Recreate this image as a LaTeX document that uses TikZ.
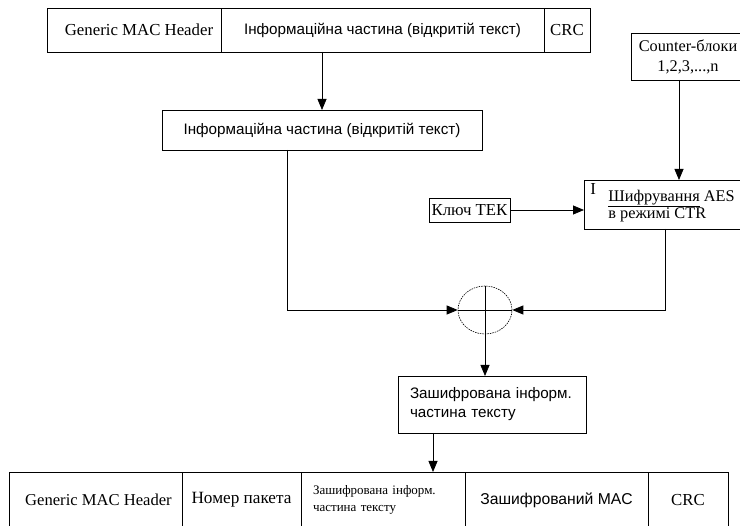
\documentclass[tikz,border=0pt]{standalone}
\usepackage{fontspec}
\setmainfont{Liberation Serif}
\setsansfont{Liberation Sans}
\usetikzlibrary{arrows.meta,shapes.geometric}

\begin{document}
\begin{tikzpicture}[x=1pt,y=-1pt, line width=0.8pt,
  cell/.style={draw, inner sep=0pt, outer sep=0pt},
  serif/.style={font=\fontsize{16.8}{19}\selectfont},
  small/.style={font=\fontsize{13}{17}\selectfont},
  sans/.style={font=\sffamily\fontsize{15.2}{19}\selectfont},
  arr/.style={-{Triangle[length=11pt,width=9pt]}},
]
\useasboundingbox (0,0) rectangle (740,526);
\clip (0,0) rectangle (740,526);

% incoming frame
\node[cell,serif,minimum width=174pt,minimum height=44pt] (srcHdr) at (134,30) {\hspace{10pt}Generic MAC Header};
\node[cell,sans,minimum width=323pt,minimum height=44pt] (srcData) at (382.5,30) {Інформаційна частина (відкритій текст)\hspace{30pt}};
\node[cell,serif,minimum width=46pt,minimum height=44pt] (srcCrc) at (567,30) {CRC};

% extracted plain text
\node[cell,sans,minimum width=320pt,minimum height=40pt] (plain) at (322,130) {Інформаційна частина (відкритій текст)\hspace{12pt}};
\draw[arr] (plain.north |- srcData.south) -- (plain.north);

% counter blocks and the AES-CTR stage
\node[cell,font=\fontsize{16.3}{20}\selectfont,align=center,minimum width=114pt,minimum height=47pt] (ctr) at (688,56.5) {Counter-блоки\\1,2,3,...,n};
\node[cell,minimum width=166pt,minimum height=49pt] (aes) at (667,204.5) {};
\node[serif,anchor=north west,inner sep=0pt] (aesMark) at (590,183) {I};
\node[font=\fontsize{16.3}{17}\selectfont,align=left,anchor=west,inner sep=0pt] (aesTxt) at (608,206) {\underline{Шифрування} AES\\в режимі CTR};
\draw[arr] ([xshift=-9pt]ctr.south) -- ([xshift=-9pt]ctr.south |- aes.north);

% key
\node[cell,serif,minimum width=81pt,minimum height=24pt] (key) at (469.5,210) {Ключ ТЕК};
\draw[arr] (key.east) -- (key.east -| aes.west);

% XOR combiner
\node[draw,ellipse,dash pattern=on 1.5pt off 1pt,line width=0.6pt,inner sep=0pt,minimum width=54pt,minimum height=48pt] (xor) at (485,310) {};
\draw (xor.north) -- (xor.south);
\draw (xor.west) -- (xor.east);
\draw[arr] ([xshift=-35pt]plain.south) |- (xor.west);
\draw[arr] ([xshift=-2pt]aes.south) |- (xor.east);

% encrypted result
\node[cell,sans,align=left,text width=164pt,inner xsep=12pt,minimum height=57pt] (enc) at (492,404.5) {Зашифрована інформ.\\частина тексту};
\draw[arr] (xor.south) -- (xor.south |- enc.north);

% outgoing frame
\node[cell,font=\fontsize{16.6}{19}\selectfont,minimum width=173pt,minimum height=56pt] (outHdr) at (95.5,500) {\hspace{6pt}Generic MAC Header};
\node[cell,font=\fontsize{17.2}{19}\selectfont,minimum width=119pt,minimum height=56pt] (outNum) at (241.5,500) {Номер пакета};
\node[cell,small,align=left,text width=140pt,inner xsep=12pt,minimum height=56pt] (outData) at (383,500) {Зашифрована інформ.\\частина тексту};
\node[cell,sans,minimum width=183pt,minimum height=56pt] (outMac) at (556.5,500) {\fontsize{15.7}{19}\selectfont Зашифрований MAC\hspace{8pt}};
\node[cell,serif,minimum width=80pt,minimum height=56pt] (outCrc) at (688,500) {CRC};
\draw[arr] ([xshift=-59pt]enc.south) -- ([xshift=-59pt]enc.south |- outData.north);
\end{tikzpicture}
\end{document}
